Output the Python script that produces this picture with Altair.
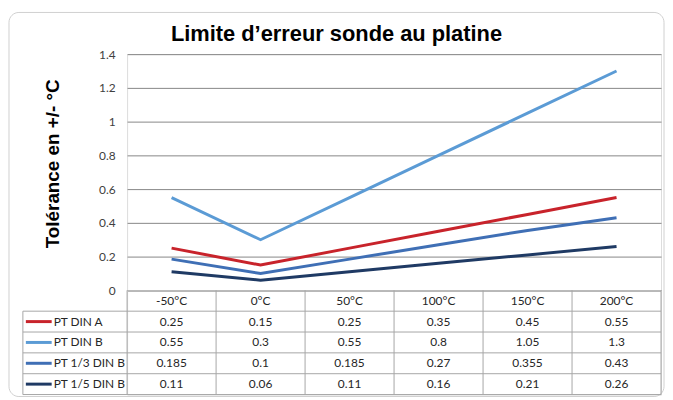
import altair as alt
import pandas as pd

categories = ["-50°C", "0°C", "50°C", "100°C", "150°C", "200°C"]
series_names = ["PT DIN A", "PT DIN B", "PT 1/3 DIN B", "PT 1/5 DIN B"]
pt_din_a = [0.25, 0.15, 0.25, 0.35, 0.45, 0.55]
pt_din_b = [0.55, 0.3, 0.55, 0.8, 1.05, 1.3]
pt_13_din_b = [0.185, 0.1, 0.185, 0.27, 0.355, 0.43]
pt_15_din_b = [0.11, 0.06, 0.11, 0.16, 0.21, 0.26]
colors = ["#c8232b", "#5b9bd5", "#3f6fb5", "#1f3a64"]
y_ticks = [0, 0.2, 0.4, 0.6, 0.8, 1.0, 1.2, 1.4]
title_text = "Limite d\u2019erreur sonde au platine"
y_title = "Tolérance en +/- °C"

W, H, TH = 538, 238, 105
LEG = 105
FONT = "Lato"
GRID = "#a6a6a6"

all_values = [pt_din_a, pt_din_b, pt_13_din_b, pt_15_din_b]
recs = []
for s, vals in zip(series_names, all_values):
    for i, (c, v) in enumerate(zip(categories, vals)):
        recs.append({"series": s, "category": c, "value": v, "idx": i, "label": f"{v:g}"})
long = pd.DataFrame(recs)
rows = ["hdr"] + series_names
hdr_df = pd.DataFrame({"category": categories, "row": ["hdr"] * len(categories)})
ser_df = pd.DataFrame({"series": series_names})
cat_df = pd.DataFrame({"category": categories})
one = pd.DataFrame({"a": [0]})

xband = alt.Scale(type="band", domain=categories, paddingInner=0, paddingOuter=0)
rowscale = alt.Scale(type="band", domain=rows, paddingInner=0, paddingOuter=0)
cscale = alt.Scale(domain=series_names, range=colors)

lines = alt.Chart(long).mark_line(strokeWidth=3).encode(
    x=alt.X("category:N", scale=xband, bandPosition=0.5,
            axis=alt.Axis(labels=False, ticks=False, grid=False, title=None,
                          domainColor="#595959", domainWidth=1)),
    y=alt.Y("value:Q", scale=alt.Scale(domain=[0, 1.4], nice=False, zero=True),
            axis=alt.Axis(values=y_ticks, format=".1~f", grid=True, gridColor="#878787",
                          domain=False, ticks=False, labelPadding=12, labelFont=FONT,
                          labelFontSize=12, labelColor="#404040",
                          title=y_title, titleFont="Liberation Sans", titleFontSize=19,
                          titleFontWeight="bold", titleColor="#000000", titlePadding=36,
                          titleY=110)),
    color=alt.Color("series:N", scale=cscale, legend=None),
    order=alt.Order("idx:Q"),
)
top = lines.properties(
    width=W, height=H,
    title=alt.TitleParams(text=title_text, anchor="middle", dx=-58, offset=2,
                          fontSize=22, font="Liberation Sans", fontWeight="bold",
                          color="#000000"),
)

txt = dict(font=FONT, fontSize=12, color="#262626")
header = alt.Chart(hdr_df).mark_text(**txt).encode(
    x=alt.X("category:N", scale=xband, bandPosition=0.5, axis=None),
    y=alt.Y("row:N", scale=rowscale, bandPosition=0.5, axis=None),
    text="category:N",
)
vals_t = alt.Chart(long).mark_text(**txt).encode(
    x=alt.X("category:N", scale=xband, bandPosition=0.5, axis=None),
    y=alt.Y("series:N", scale=rowscale, bandPosition=0.5, axis=None),
    text="label:N",
)
leg_t = alt.Chart(ser_df).mark_text(align="left", **txt).encode(
    x=alt.value(-74),
    y=alt.Y("series:N", scale=rowscale, bandPosition=0.5, axis=None),
    text="series:N",
)
swatch = alt.Chart(ser_df).mark_rule(strokeWidth=3).encode(
    x=alt.value(-102), x2=alt.value(-76),
    y=alt.Y("series:N", scale=rowscale, bandPosition=0.5, axis=None),
    color=alt.Color("series:N", scale=cscale, legend=None),
)
hlines = alt.Chart(ser_df).mark_rule(color=GRID, strokeWidth=1).encode(
    x=alt.value(-LEG), x2=alt.value(W),
    y=alt.Y("series:N", scale=rowscale, bandPosition=0, axis=None),
)
vlines = alt.Chart(cat_df).mark_rule(color=GRID, strokeWidth=1).encode(
    x=alt.X("category:N", scale=xband, bandPosition=0, axis=None),
    y=alt.value(0), y2=alt.value(TH),
)
edges = alt.layer(
    alt.Chart(one).mark_rule(color=GRID).encode(x=alt.value(-LEG), x2=alt.value(W), y=alt.value(TH)),
    alt.Chart(one).mark_rule(color=GRID).encode(x=alt.value(W), y=alt.value(0), y2=alt.value(TH)),
    alt.Chart(one).mark_rule(color=GRID).encode(x=alt.value(-LEG), y=alt.value(21), y2=alt.value(TH)),
)
frame = alt.Chart(one).mark_rect(fillOpacity=0, stroke="#d0d0d0", strokeWidth=1, cornerRadius=10).encode(
    x=alt.value(-119), x2=alt.value(541), y=alt.value(-280), y2=alt.value(107),
)
bottom = alt.layer(frame, hlines, vlines, edges, swatch, header, vals_t, leg_t).properties(width=W, height=TH)

chart = alt.vconcat(top, bottom, spacing=0, bounds="flush").properties(
    padding={"left": 0, "top": 2, "right": 0, "bottom": 0}
).configure_view(stroke=None).configure(background="white")

chart.save("out.html", embed_options={"renderer": "svg", "actions": False})
